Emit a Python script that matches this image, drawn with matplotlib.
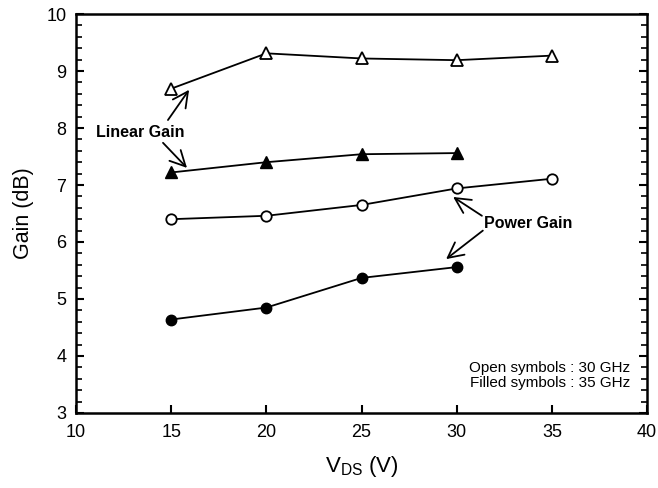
import matplotlib
matplotlib.use("Agg")
import matplotlib.pyplot as plt
from matplotlib.ticker import MultipleLocator

plt.rcParams['font.family'] = ['Liberation Sans', 'DejaVu Sans']

vds_30 = [15, 20, 25, 30, 35]
vds_35 = [15, 20, 25, 30]
linear_gain_30 = [8.69, 9.31, 9.22, 9.19, 9.27]
linear_gain_35 = [7.22, 7.40, 7.54, 7.56]
power_gain_30 = [6.40, 6.46, 6.65, 6.94, 7.11]
power_gain_35 = [4.64, 4.85, 5.37, 5.56]

fig = plt.figure(figsize=(6.58, 4.88), dpi=100)
ax = fig.add_axes([0.1155, 0.1537, 0.868, 0.8176])

lw = 1.3
ax.plot(vds_30, linear_gain_30, '-', color='black', lw=lw, marker='^', ms=8,
        mfc='white', mec='black', mew=1.3)
ax.plot(vds_35, linear_gain_35, '-', color='black', lw=lw, marker='^', ms=8,
        mfc='black', mec='black')
ax.plot(vds_30, power_gain_30, '-', color='black', lw=lw, marker='o', ms=7.5,
        mfc='white', mec='black', mew=1.3)
ax.plot(vds_35, power_gain_35, '-', color='black', lw=lw, marker='o', ms=7.5,
        mfc='black', mec='black')

ax.set_xlim(10, 40)
ax.set_ylim(3, 10)
ax.xaxis.set_major_locator(MultipleLocator(5))
ax.yaxis.set_major_locator(MultipleLocator(1))
ax.yaxis.set_minor_locator(MultipleLocator(0.2))
ax.tick_params(axis='x', which='both', direction='in', top=False, bottom=True,
               length=6, width=1.5, labelsize=13, pad=8)
ax.tick_params(axis='y', which='major', direction='in', left=True, right=True,
               length=6, width=1.5, labelsize=13, pad=7)
ax.tick_params(axis='y', which='minor', direction='in', left=True, right=True,
               length=4, width=1.2)
for s in ax.spines.values():
    s.set_linewidth(1.8)

ax.set_xlabel(r'V$_{\mathregular{DS}}$ (V)', fontsize=16, labelpad=9)
ax.set_ylabel('Gain (dB)', fontsize=15.5, labelpad=9)

aprops = dict(arrowstyle='->,head_length=0.55,head_width=0.28', color='black',
              lw=1.3, mutation_scale=20, shrinkA=0, shrinkB=0)
ax.text(13.39, 7.92, 'Linear Gain', fontsize=11.5, fontweight='bold', ha='center', va='center')
ax.annotate('', xy=(15.94, 8.67), xytext=(14.83, 8.14), arrowprops=aprops)
ax.annotate('', xy=(15.83, 7.30), xytext=(14.57, 7.74), arrowprops=aprops)

ax.text(33.75, 6.33, 'Power Gain', fontsize=11.5, fontweight='bold', ha='center', va='center')
ax.annotate('', xy=(29.81, 6.79), xytext=(31.32, 6.46), arrowprops=aprops)
ax.annotate('', xy=(29.44, 5.70), xytext=(31.37, 6.20), arrowprops=aprops)

ax.text(39.1, 3.66, 'Open symbols : 30 GHz\nFilled symbols : 35 GHz', fontsize=11,
        ha='right', va='center', linespacing=1.15)

fig.savefig('out.png', dpi=100)
